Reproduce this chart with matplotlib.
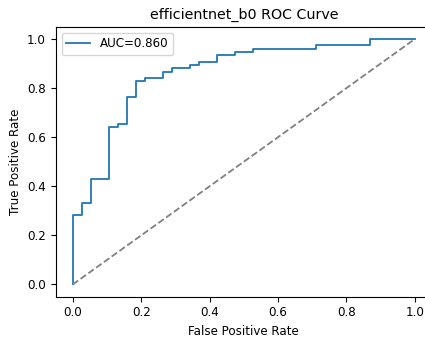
import matplotlib
matplotlib.use("Agg")
import matplotlib.pyplot as plt

# ROC curve points
fpr = [0.0, 0.0, 0.026, 0.026, 0.053, 0.053, 0.105, 0.105, 0.132, 0.132,
       0.158, 0.158, 0.184, 0.184, 0.211, 0.211, 0.263, 0.263, 0.289, 0.289,
       0.342, 0.342, 0.368, 0.368, 0.421, 0.421, 0.474, 0.474, 0.526, 0.526,
       0.711, 0.711, 0.868, 0.868, 1.0]
tpr = [0.0, 0.281, 0.281, 0.333, 0.333, 0.429, 0.429, 0.641, 0.641, 0.654,
       0.654, 0.763, 0.763, 0.827, 0.827, 0.840, 0.840, 0.866, 0.866, 0.880,
       0.880, 0.895, 0.895, 0.908, 0.908, 0.935, 0.935, 0.948, 0.948, 0.961,
       0.961, 0.974, 0.974, 1.0, 1.0]
auc_label = "AUC=0.860"
title = "efficientnet_b0 ROC Curve"

plt.rcParams["font.size"] = 8.6

fig = plt.figure(figsize=(4.25, 3.38), dpi=100)
# the original screenshot cuts off the right spine
ax = fig.add_axes([55.7 / 425, (338 - 296.7) / 338, (432 - 55.7) / 425, (296.7 - 26.7) / 338])
ax.plot(fpr, tpr, color="#1f77b4", lw=1.3, label=auc_label)
ax.plot([0, 1], [0, 1], linestyle="--", color="gray", lw=1.3)
ax.set_xlim(-0.05, 1.05)
ax.set_xlabel("False Positive Rate")
ax.set_ylabel("True Positive Rate")
ax.set_title(title, fontsize=10.3)
ax.legend(loc="upper left")
fig.savefig("out.png", dpi=100)
